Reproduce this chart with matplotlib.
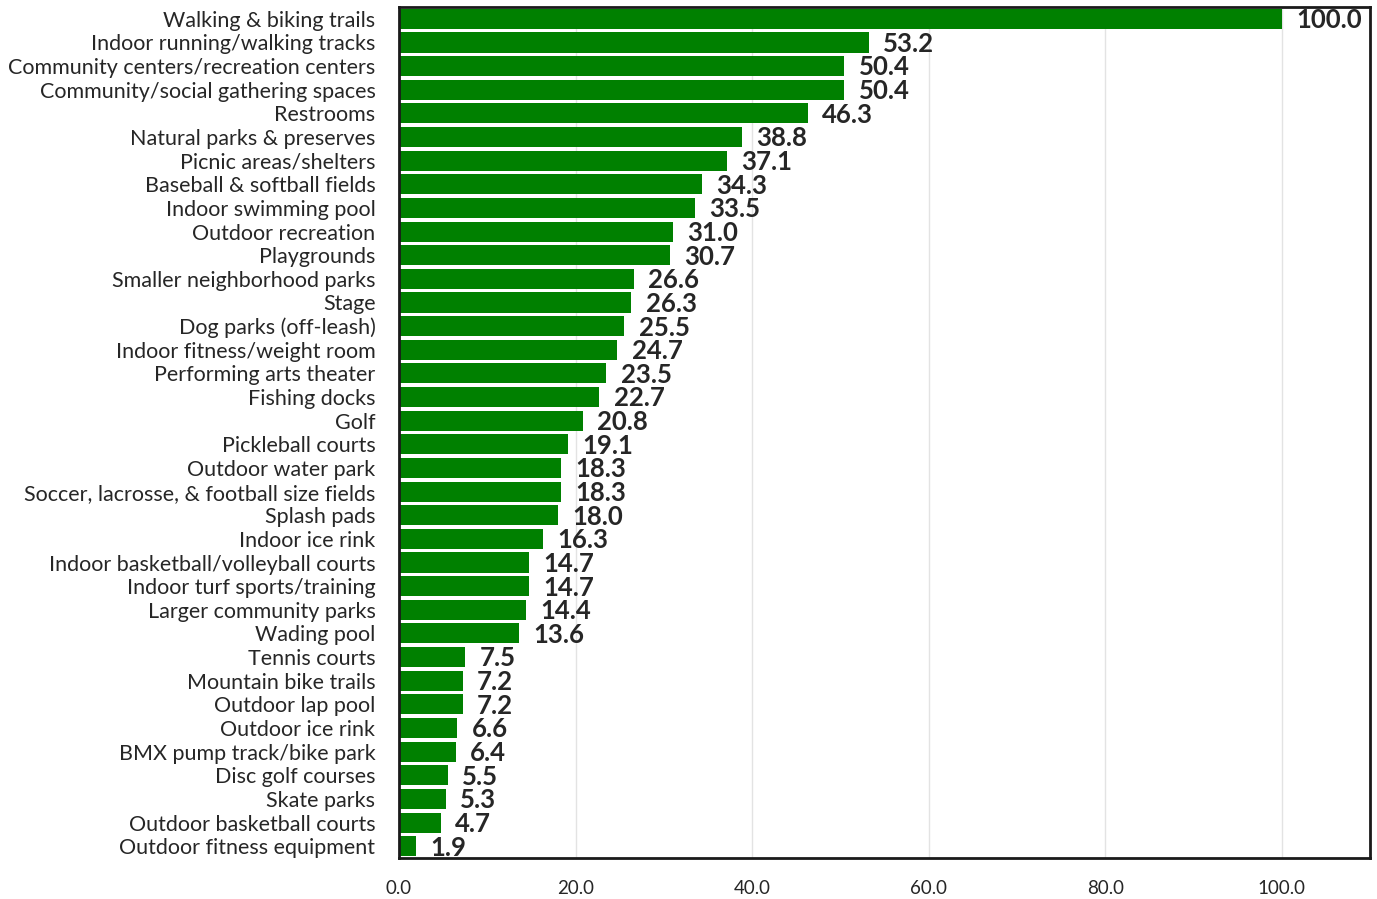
import matplotlib.pyplot as plt

categories = [
    "Walking & biking trails", "Indoor running/walking tracks",
    "Community centers/recreation centers", "Community/social gathering spaces",
    "Restrooms", "Natural parks & preserves", "Picnic areas/shelters",
    "Baseball & softball fields", "Indoor swimming pool", "Outdoor recreation",
    "Playgrounds", "Smaller neighborhood parks", "Stage", "Dog parks (off-leash)",
    "Indoor fitness/weight room", "Performing arts theater", "Fishing docks",
    "Golf", "Pickleball courts", "Outdoor water park",
    "Soccer, lacrosse, & football size fields", "Splash pads", "Indoor ice rink",
    "Indoor basketball/volleyball courts", "Indoor turf sports/training",
    "Larger community parks", "Wading pool", "Tennis courts",
    "Mountain bike trails", "Outdoor lap pool", "Outdoor ice rink",
    "BMX pump track/bike park", "Disc golf courses", "Skate parks",
    "Outdoor basketball courts", "Outdoor fitness equipment",
]
values = [
    100.0, 53.2, 50.4, 50.4, 46.3, 38.8, 37.1, 34.3, 33.5, 31.0, 30.7,
    26.6, 26.3, 25.5, 24.7, 23.5, 22.7, 20.8, 19.1, 18.3, 18.3, 18.0,
    16.3, 14.7, 14.7, 14.4, 13.6, 7.5, 7.2, 7.2, 6.6, 6.4, 5.5, 5.3,
    4.7, 1.9,
]
xticks = [0, 20, 40, 60, 80, 100]

plt.rcParams["font.family"] = ["Lato", "DejaVu Sans"]
text_color = "#262626"

fig = plt.figure(figsize=(13.77, 8.99), dpi=100)
ax = fig.add_axes([0.2898, 0.0456, 0.7051, 0.9466])

pos = list(range(len(categories)))
ax.barh(pos, values, height=0.85, color="#008000", zorder=2)

for p, v in zip(pos, values):
    ax.annotate(f"{v:.1f}", (v, p), xytext=(10.5, -1), textcoords="offset points",
                va="center", ha="left", fontsize=18.5, fontweight="bold",
                color=text_color)

ax.set_xlim(0, 110)
ax.set_ylim(len(categories) - 0.5, -0.5)
ax.set_yticks(pos)
ax.set_yticklabels(categories, fontsize=15.5, color=text_color)
ax.set_xticks(xticks)
ax.set_xticklabels([f"{t:.1f}" for t in xticks], fontsize=13.5, color=text_color)
ax.tick_params(axis="y", length=0, pad=17)
ax.tick_params(axis="x", length=0, pad=16)
ax.grid(axis="x", color="#e3e3e3", linewidth=1, zorder=0)
ax.set_axisbelow(True)
for s in ax.spines.values():
    s.set_linewidth(2)
    s.set_color("#1a1a1a")

fig.savefig("out.png", dpi=100)
